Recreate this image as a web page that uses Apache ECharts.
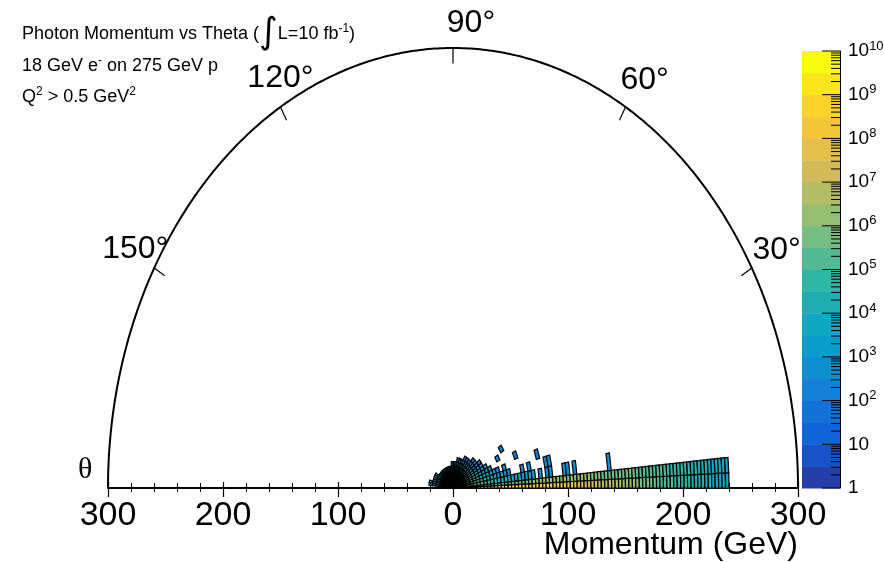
<!DOCTYPE html>
<html>
<head>
<meta charset="utf-8">
<script src="https://cdn.jsdelivr.net/npm/echarts@6/dist/echarts.min.js"></script>
<style>
  html, body { margin: 0; background: #fff; }
  #chart { width: 884px; height: 562px; }
</style>
</head>
<body>
<div id="chart"></div>
<script>
// momentum bins are 3 GeV wide, starting at 0
const pStep = 3;
// theta bin edges in degrees
const thetaEdges = [0, 2.5, 5, 10, 15, 20, 25, 30, 35, 40, 45, 50, 55, 60, 65, 70, 75, 80, 85, 90,
  95, 100, 105, 110, 115, 120, 125, 130, 135, 140, 145, 150, 155, 160, 165, 170, 175, 180];

// log10(counts), theta 0-2.5 deg, one value per momentum bin (0..240 GeV)
const forwardLow = [
  9.6, 9.6, 9.5, 9.5, 9.4, 9.3, 9.2, 9.2, 9.1, 9.0,
  8.9, 8.9, 8.8, 8.8, 8.7, 8.7, 8.6, 8.6, 8.5, 8.5,
  8.4, 8.4, 8.3, 8.3, 8.2, 8.2, 8.1, 8.0, 8.0, 7.9,
  7.8, 7.8, 7.7, 7.6, 7.6, 7.5, 7.4, 7.3, 7.3, 7.2,
  7.1, 7.0, 7.0, 6.9, 6.8, 6.7, 6.6, 6.6, 6.5, 6.4,
  6.3, 6.2, 6.1, 6.0, 5.9, 5.8, 5.7, 5.6, 5.5, 5.4,
  5.3, 5.2, 5.1, 5.0, 4.9, 4.8, 4.7, 4.6, 4.5, 4.4,
  4.3, 4.2, 4.1, 4.0, 3.9, 3.8, 3.7, 3.6, 3.5, 3.4
];
// theta 2.5-5 deg
const forwardHigh = [
  8.6, 8.2, 7.8, 7.3, 6.9, 6.5, 6.2, 5.9, 5.7, 5.5,
  5.4, 5.3, 5.3, 5.3, 5.4, 5.4, 5.5, 5.5, 5.6, 5.7,
  5.8, 5.8, 5.9, 6.0, 6.0, 6.1, 6.1, 6.2, 6.2, 6.2,
  6.2, 6.2, 6.2, 6.2, 6.1, 6.1, 6.1, 6.1, 6.0, 6.0,
  6.0, 5.9, 5.9, 5.9, 5.8, 5.8, 5.8, 5.7, 5.7, 5.6,
  5.6, 5.5, 5.5, 5.4, 5.4, 5.3, 5.3, 5.2, 5.2, 5.1,
  5.0, 5.0, 4.9, 4.8, 4.8, 4.7, 4.6, 4.5, 4.5, 4.4,
  4.3, 4.2, 4.1, 4.0, 3.9, 3.8, 3.7, 3.6, 3.5, 3.4
];
// 5 deg rows from 5-10 up to 175-180, values from p = 0 outwards
const wideRows = [
  [8.4, 7.9, 7.4, 7.0, 6.6, 6.2, 5.8, 5.5, 5.2, 5.0, 4.8, 4.6, 4.5, 4.3, 4.2, 4.1, 4.0, 3.9, 3.8, 3.6, 3.5, 3.4, 3.3, 3.2],
  [8.1, 7.5, 6.9, 6.4, 5.9, 5.4, 5.0, 4.6, 4.3, 4.0, 3.8, 3.6, 3.4, 3.2, 3.1, 2.9, 2.7],
  [7.9, 7.3, 6.7, 6.1, 5.6, 5.1, 4.6, 4.2, 3.9, 3.6, 3.3, 3.1, 2.9, 2.6],
  [7.8, 7.1, 6.5, 5.9, 5.3, 4.8, 4.3, 3.9, 3.5, 3.2, 2.9, 2.6],
  [7.7, 7.0, 6.3, 5.7, 5.1, 4.6, 4.1, 3.6, 3.2, 2.9, 2.5],
  [7.6, 6.9, 6.2, 5.5, 4.9, 4.3, 3.8, 3.3, 2.9, 2.5],
  [7.5, 6.8, 6.0, 5.3, 4.7, 4.1, 3.6, 3.1, 2.7, 2.2],
  [7.4, 6.7, 5.9, 5.2, 4.5, 3.9, 3.3, 2.8, 2.3],
  [7.4, 6.6, 5.8, 5.0, 4.3, 3.7, 3.1, 2.6, 2.1],
  [7.3, 6.5, 5.7, 4.9, 4.2, 3.5, 2.9, 2.3],
  [7.3, 6.5, 5.6, 4.8, 4.1, 3.4, 2.7, 2.1],
  [7.2, 6.4, 5.5, 4.7, 3.9, 3.2, 2.5, 1.9],
  [7.2, 6.4, 5.5, 4.6, 3.8, 3.0, 2.3],
  [7.2, 6.3, 5.4, 4.5, 3.7, 2.9, 2.1],
  [7.1, 6.3, 5.4, 4.5, 3.6, 2.8, 2.0],
  [7.1, 6.3, 5.3, 4.4, 3.5, 2.6],
  [7.1, 6.2, 5.3, 4.4, 3.4, 2.5],
  [7.1, 6.2, 5.3, 4.3, 3.4, 2.4],
  [7.0, 6.2, 5.2, 4.3, 3.3],
  [7.0, 6.1, 5.2, 4.2, 3.3],
  [7.0, 6.1, 5.2, 4.2, 3.2],
  [7.0, 6.1, 5.1, 4.2, 3.2],
  [7.0, 6.1, 5.1, 4.1, 3.2],
  [7.0, 6.1, 5.1, 4.1, 3.2],
  [7.0, 6.1, 5.1, 4.2, 3.2],
  [7.0, 6.1, 5.2, 4.2, 3.3],
  [7.0, 6.2, 5.2, 4.3, 3.3],
  [7.1, 6.2, 5.3, 4.3, 3.4],
  [7.1, 6.3, 5.4, 4.5, 3.7, 3.0],
  [7.1, 6.3, 5.4, 4.5, 3.7, 3.0],
  [7.2, 6.3, 5.5, 4.6, 3.8, 3.1],
  [7.2, 6.4, 5.5, 4.7, 3.9, 3.2],
  [7.2, 6.4, 5.5, 4.7, 3.9, 3.2, 2.6],
  [7.2, 6.4, 5.6, 4.8, 4.0, 3.3, 2.7]
];
// isolated bins: [theta low edge, p low edge, log10(counts)]
const sparseBins = [
  [5, 75, 2.7], [5, 81, 2.8], [5, 84, 2.6], [5, 96, 2.7], [5, 99, 2.8], [5, 105, 2.7], [5, 135, 2.6],
  [10, 60, 2.5], [10, 66, 2.6], [10, 81, 2.5], [10, 84, 2.6],
  [15, 45, 2.5], [15, 75, 2.4],
  [20, 57, 2.4],
  [25, 42, 2.4],
  [30, 48, 2.3]
];

const angleMarks = [30, 60, 90, 120, 150];
const rMax = 300;
const zDecades = [0, 1, 2, 3, 4, 5, 6, 7, 8, 9, 10];

// ROOT kBird palette stops
const birdStops = [[53, 42, 135], [15, 92, 221], [20, 129, 214], [6, 164, 202], [46, 183, 164],
  [135, 191, 119], [209, 187, 89], [254, 200, 50], [249, 251, 14]];
function bird (f) {
  const x = Math.min(1, Math.max(0, f)) * 8;
  const i = Math.min(7, Math.floor(x));
  const t = x - i;
  const a = birdStops[i], b = birdStops[i + 1];
  return 'rgb(' + a.map((c, k) => Math.round(c + (b[k] - c) * t)).join(',') + ')';
}
const nBands = 20;
const zMax = 10;
const pieces = [];
const bands = [];
for (let k = 0; k < nBands; k++) {
  const lo = k * zMax / nBands, hi = (k + 1) * zMax / nBands;
  pieces.push(k === nBands - 1 ? { gte: lo, lte: hi, color: bird((k + 0.99) / nBands) }
                               : { gte: lo, lt: hi, color: bird((k + 0.99) / nBands) });
  bands.push([0, 1, lo, hi, (lo + hi) / 2]);
}

const bins = [];
function addRow (ti, arr) {
  arr.forEach((v, j) => {
    if (v != null) bins.push([thetaEdges[ti], thetaEdges[ti + 1], j * pStep, (j + 1) * pStep, v]);
  });
}
addRow(0, forwardLow);
addRow(1, forwardHigh);
wideRows.forEach((arr, k) => addRow(k + 2, arr));
sparseBins.forEach(([t, p, v]) => {
  const ti = thetaEdges.indexOf(t);
  bins.push([t, thetaEdges[ti + 1], p, p + pStep, v]);
});

const minorZ = [];
zDecades.slice(0, -1).forEach(d => {
  for (let m = 2; m <= 9; m++) minorZ.push([0, d + Math.log10(m), 9]);
});
zDecades.forEach(d => minorZ.push([0, d, 18]));

const DEG = Math.PI / 180;
const polar = (api, r, deg) => api.coord([r * Math.cos(deg * DEG), r * Math.sin(deg * DEG)]);
const FONT = 'Liberation Sans, Arial, sans-serif';

function renderBin (params, api) {
  const t0 = api.value(0), t1 = api.value(1), p0 = api.value(2), p1 = api.value(3);
  const n = Math.max(2, Math.ceil(t1 - t0) + 1);
  const pts = [];
  for (let i = 0; i < n; i++) pts.push(polar(api, p1, t0 + (t1 - t0) * i / (n - 1)));
  for (let i = n - 1; i >= 0; i--) pts.push(polar(api, p0, t0 + (t1 - t0) * i / (n - 1)));
  return {
    type: 'polygon',
    shape: { points: pts },
    style: { fill: api.visual('color'), stroke: '#000', lineWidth: 1.2 }
  };
}

function renderFrame (params, api) {
  const pts = [];
  for (let a = 0; a <= 180; a += 0.5) pts.push(polar(api, rMax, a));
  return { type: 'polyline', shape: { points: pts }, style: { stroke: '#000', lineWidth: 2, fill: null } };
}

// label nudges so the text sits where ROOT put it
const labelShift = { 30: [4, -2], 60: [7, 0], 90: [18, 6], 120: [12, -2], 150: [2, -3] };
function renderAngle (params, api) {
  const a = api.value(0);
  const outer = polar(api, rMax, a);
  const inner = polar(api, rMax * 0.965, a);
  const lab = polar(api, rMax * 1.07, a);
  const d = labelShift[a] || [0, 0];
  return {
    type: 'group',
    children: [
      { type: 'line', shape: { x1: outer[0], y1: outer[1], x2: inner[0], y2: inner[1] },
        style: { stroke: '#000', lineWidth: 1.2 } },
      { type: 'text', x: lab[0] + d[0], y: lab[1] + d[1],
        style: { text: a + '°', fontSize: 32, fontFamily: FONT, fill: '#000', align: 'center', verticalAlign: 'middle' } }
    ]
  };
}

function renderBand (params, api) {
  const a = api.coord([api.value(0), api.value(3)]);
  const b = api.coord([api.value(1), api.value(2)]);
  return { type: 'rect', shape: { x: a[0], y: a[1], width: b[0] - a[0], height: b[1] - a[1] + 0.5 },
    style: { fill: api.visual('color') } };
}

function renderZTick (params, api) {
  const p = api.coord([1, api.value(1)]);
  const len = api.value(2);
  return { type: 'line', shape: { x1: p[0] - len, y1: p[1], x2: p[0], y2: p[1] }, style: { stroke: '#000', lineWidth: 1 } };
}

const chart = echarts.init(document.getElementById('chart'));
chart.setOption({
  animation: false,
  backgroundColor: '#fff',
  grid: [
    { left: 108, top: 48, width: 690, height: 440, outerBoundsMode: 'none' },
    { left: 802, top: 51, width: 38, height: 437, outerBoundsMode: 'none' }
  ],
  xAxis: [
    {
      gridIndex: 0, type: 'value', min: -rMax, max: rMax, interval: 100,
      axisLine: { lineStyle: { color: '#000', width: 2 } },
      axisTick: { inside: false, length: 9, lineStyle: { color: '#000', width: 1.2 } },
      minorTick: { show: true, splitNumber: 5, length: 4, lineStyle: { color: '#000', width: 1 } },
      splitLine: { show: false },
      axisLabel: { formatter: v => String(Math.abs(v)), fontSize: 34, fontFamily: FONT, color: '#000', margin: 11 }
    },
    {
      gridIndex: 0, type: 'value', min: -rMax, max: rMax, interval: 100, position: 'bottom',
      axisLine: { show: false },
      axisTick: { inside: true, length: 6, lineStyle: { color: '#000', width: 1.2 } },
      minorTick: { show: true, splitNumber: 5, length: 5, lineStyle: { color: '#000', width: 1 } },
      splitLine: { show: false },
      axisLabel: { show: false }
    },
    { gridIndex: 1, type: 'value', min: 0, max: 1, show: false }
  ],
  yAxis: [
    { gridIndex: 0, type: 'value', min: 0, max: rMax, show: false },
    {
      gridIndex: 1, type: 'value', min: 0, max: zMax, interval: 1, position: 'right',
      axisLine: { show: true, onZero: false, lineStyle: { color: '#000', width: 1 } },
      axisTick: { show: false },
      splitLine: { show: false },
      axisLabel: {
        margin: 8,
        formatter: v => v === 0 ? '{b|1}' : v === 1 ? '{b|10}' : '{b|10}{s|' + v + '}',
        rich: {
          b: { fontSize: 19, fontFamily: FONT, color: '#000' },
          s: { fontSize: 13, fontFamily: FONT, color: '#000', padding: [0, 0, 10, 0] }
        }
      },
      z: 10
    }
  ],
  visualMap: {
    type: 'piecewise', show: false, dimension: 4, seriesIndex: [0, 3], pieces: pieces
  },
  series: [
    { type: 'custom', name: 'bins', xAxisIndex: 0, yAxisIndex: 0, data: bins, renderItem: renderBin, clip: false, silent: true },
    { type: 'custom', name: 'frame', xAxisIndex: 0, yAxisIndex: 0, data: [[0, 0]], renderItem: renderFrame, silent: true },
    { type: 'custom', name: 'angles', xAxisIndex: 0, yAxisIndex: 0, data: angleMarks.map(a => [a, 0]), renderItem: renderAngle, silent: true },
    { type: 'custom', name: 'palette', xAxisIndex: 2, yAxisIndex: 1, data: bands, renderItem: renderBand, silent: true },
    { type: 'custom', name: 'paletteTicks', xAxisIndex: 2, yAxisIndex: 1, data: minorZ, renderItem: renderZTick, silent: true, z: 5 }
  ],
  graphic: [
    {
      type: 'text', left: 22, top: 16,
      style: {
        text: '{t|Photon Momentum vs Theta (}{i|∫}{t|L=10 fb}{s|-1}{t|)}',
        rich: {
          t: { fontSize: 18, fontFamily: FONT, fill: '#000' },
          i: { fontSize: 36, fontFamily: 'DejaVu Sans', fill: '#000' },
          s: { fontSize: 12, fontFamily: FONT, fill: '#000', padding: [0, 0, 10, 0] }
        }
      }
    },
    {
      type: 'text', left: 22, top: 55,
      style: {
        text: '{t|18 GeV e}{s|-}{t| on 275 GeV p}',
        rich: {
          t: { fontSize: 18, fontFamily: FONT, fill: '#000' },
          s: { fontSize: 12, fontFamily: FONT, fill: '#000', padding: [0, 0, 10, 0] }
        }
      }
    },
    {
      type: 'text', left: 22, top: 86,
      style: {
        text: '{t|Q}{s|2}{t| > 0.5 GeV}{s|2}',
        rich: {
          t: { fontSize: 18, fontFamily: FONT, fill: '#000' },
          s: { fontSize: 12, fontFamily: FONT, fill: '#000', padding: [0, 0, 10, 0] }
        }
      }
    },
    {
      type: 'text', left: 78, top: 455,
      style: { text: 'θ', fontSize: 30, fontFamily: 'Liberation Serif', fill: '#000' }
    },
    {
      type: 'text', right: 86, top: 529,
      style: { text: 'Momentum (GeV)', fontSize: 32, fontFamily: FONT, fill: '#000' }
    }
  ]
});
</script>
</body>
</html>
